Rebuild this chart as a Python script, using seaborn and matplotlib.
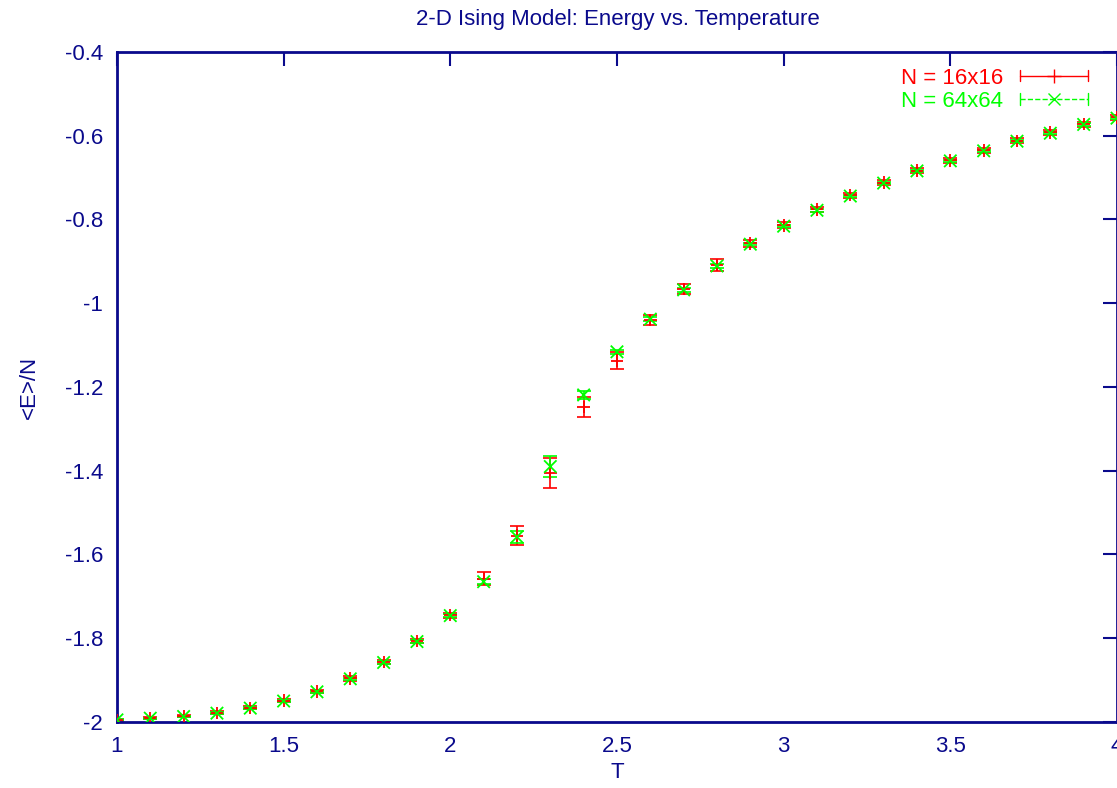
import numpy as np
import pandas as pd
import matplotlib
matplotlib.use('Agg')
import matplotlib.pyplot as plt
import seaborn as sns
from matplotlib.lines import Line2D
from matplotlib.legend_handler import HandlerBase
from matplotlib.ticker import FormatStrFormatter

# 温度
T = [1.0, 1.1, 1.2, 1.3, 1.4, 1.5, 1.6, 1.7, 1.8, 1.9, 2.0,
     2.1, 2.2, 2.3, 2.4, 2.5, 2.6, 2.7, 2.8, 2.9, 3.0,
     3.1, 3.2, 3.3, 3.4, 3.5, 3.6, 3.7, 3.8, 3.9, 4.0]

# N = 16x16
E16 = [-1.996, -1.991, -1.986, -1.978, -1.966, -1.949, -1.927, -1.896, -1.857, -1.807, -1.745,
       -1.658, -1.555, -1.405, -1.248, -1.137, -1.040, -0.966, -0.909, -0.857, -0.814,
       -0.776, -0.742, -0.712, -0.683, -0.659, -0.635, -0.612, -0.592, -0.572, -0.556]
err16 = [0.002, 0.002, 0.003, 0.003, 0.004, 0.004, 0.004, 0.005, 0.005, 0.005, 0.006,
         0.016, 0.022, 0.036, 0.024, 0.020, 0.012, 0.012, 0.014, 0.008, 0.007,
         0.007, 0.006, 0.006, 0.006, 0.006, 0.006, 0.006, 0.006, 0.006, 0.006]

# N = 64x64
E64 = [-1.995, -1.991, -1.987, -1.979, -1.967, -1.950, -1.928, -1.897, -1.858, -1.808, -1.746,
       -1.665, -1.558, -1.390, -1.219, -1.116, -1.038, -0.968, -0.911, -0.859, -0.816,
       -0.778, -0.744, -0.713, -0.684, -0.660, -0.636, -0.613, -0.594, -0.573, -0.558]
err64 = [0.001, 0.001, 0.001, 0.002, 0.002, 0.002, 0.002, 0.003, 0.003, 0.003, 0.003,
         0.006, 0.015, 0.024, 0.010, 0.005, 0.004, 0.004, 0.004, 0.003, 0.003,
         0.003, 0.003, 0.003, 0.003, 0.003, 0.003, 0.003, 0.003, 0.003, 0.003]

navy = '#0a0a8c'
red = '#ff0000'
green = '#00ff00'
FS = 16


# gnuplot 风格的图例：横线两端带短竖线，中间是标记
class CapLineHandler(HandlerBase):
    def create_artists(self, legend, orig, xd, yd, width, height, fontsize, trans):
        y = height / 2 - yd
        c = orig.get_color()
        ls = orig.get_linestyle()
        line = Line2D([-xd, -xd + width], [y, y], color=c, linestyle=ls, linewidth=1)
        cap1 = Line2D([-xd, -xd], [y - 4, y + 4], color=c, linewidth=1)
        cap2 = Line2D([-xd + width, -xd + width], [y - 4, y + 4], color=c, linewidth=1)
        mk = Line2D([-xd + width / 2], [y], color=c, marker=orig.get_marker(),
                    markersize=orig.get_markersize(), linestyle='none')
        arts = [line, cap1, cap2, mk]
        for a in arts:
            a.set_transform(trans)
        return arts


sns.set_style('white')
plt.rcParams['font.family'] = ['Liberation Sans', 'DejaVu Sans']
plt.rcParams['font.size'] = FS

df = pd.DataFrame({'T': T * 2,
                   'E': E16 + E64,
                   'err': err16 + err64,
                   'N': ['N = 16x16'] * len(T) + ['N = 64x64'] * len(T)})

fig = plt.figure(figsize=(11.17, 7.88), dpi=100)
ax = fig.add_axes([0.1047, 0.0838, 0.8953, 0.8502])

# 误差棒
for name, col in [('N = 16x16', red), ('N = 64x64', green)]:
    sub = df[df['N'] == name]
    ax.errorbar(sub['T'], sub['E'], yerr=sub['err'], fmt='none',
                ecolor=col, elinewidth=1.2, capsize=5, capthick=1.2, zorder=2)

sns.scatterplot(data=df, x='T', y='E', hue='N', style='N',
                palette={'N = 16x16': red, 'N = 64x64': green},
                markers={'N = 16x16': '+', 'N = 64x64': 'x'},
                s=80, linewidth=1.3, legend=False, ax=ax, zorder=3)

ax.set_xlim(1, 4)
ax.set_ylim(-2, -0.4)
ax.set_xticks([1, 1.5, 2, 2.5, 3, 3.5, 4])
ax.set_yticks(np.arange(-2, -0.39, 0.2))
ax.xaxis.set_major_formatter(FormatStrFormatter('%g'))
ax.yaxis.set_major_formatter(FormatStrFormatter('%g'))
ax.tick_params(direction='in', length=10, width=1.5, colors=navy,
               top=True, right=True, labelsize=FS, pad=10)
for sp in ax.spines.values():
    sp.set_color(navy)
    sp.set_linewidth(2)

ax.set_xlabel('T', color=navy, fontsize=FS, labelpad=4)
ax.set_ylabel('<E>/N', color=navy, fontsize=FS, labelpad=18)
fig.text(0.553, 0.975, '2-D Ising Model: Energy vs. Temperature',
         color=navy, fontsize=FS, ha='center', va='center')

handles = [Line2D([], [], color=red, marker='+', markersize=10, linestyle='-'),
           Line2D([], [], color=green, marker='x', markersize=8, linestyle='--')]
leg = ax.legend(handles, ['N = 16x16', 'N = 64x64'], loc='upper right',
                markerfirst=False, frameon=False, labelcolor=[red, green],
                fontsize=FS, handlelength=3.1, handletextpad=0.75,
                labelspacing=0.1, borderaxespad=0.3,
                bbox_to_anchor=(0.987, 1.0),
                handler_map={Line2D: CapLineHandler()})

fig.savefig('out.png', dpi=100)
